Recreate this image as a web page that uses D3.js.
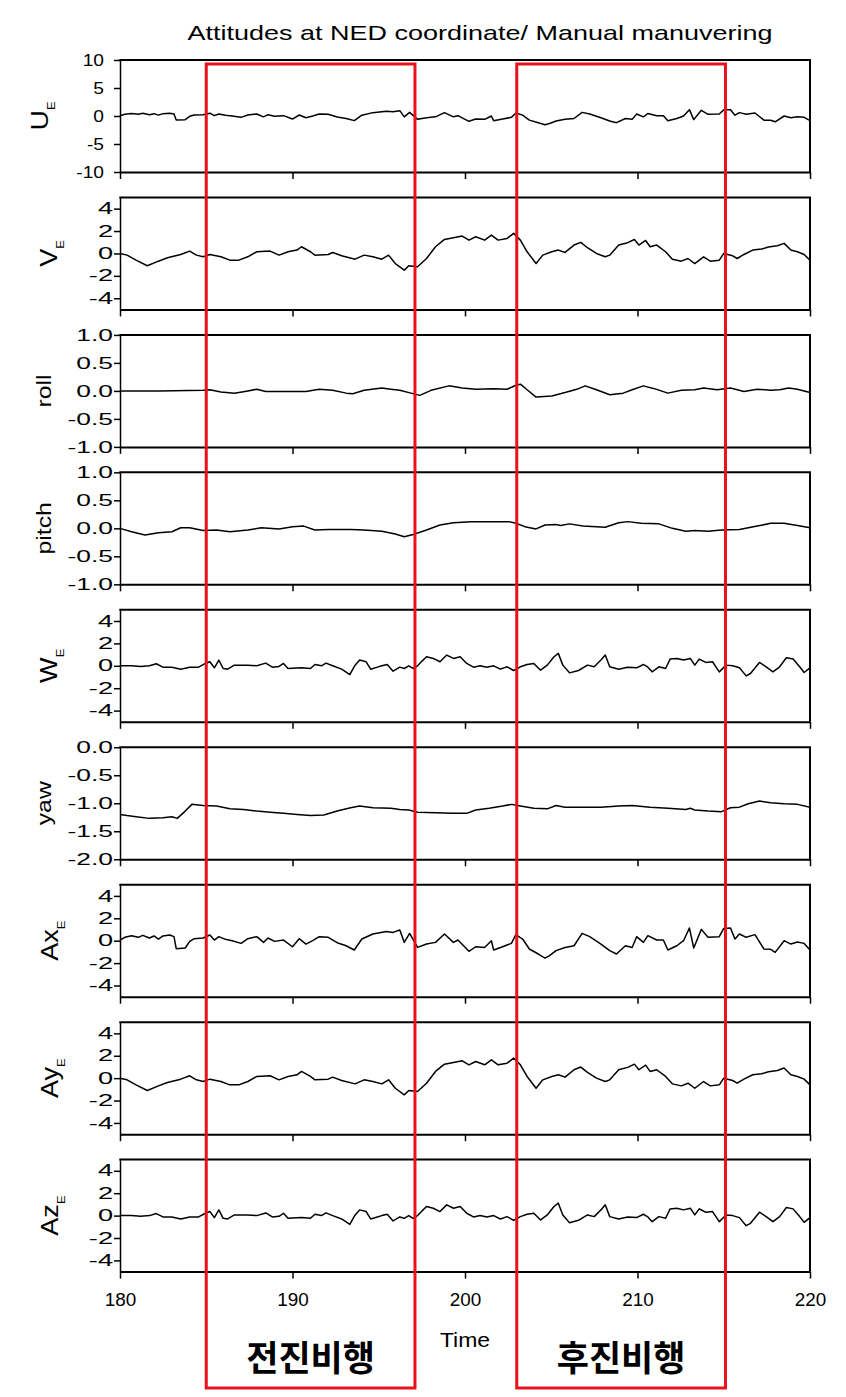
<!DOCTYPE html>
<html><head><meta charset="utf-8">
<script src="https://cdn.jsdelivr.net/npm/d3@7"></script>
<style>body{margin:0;background:#fff}svg{display:block}</style>
</head><body>
<script>
// ---------- data ----------
const xTicks = [180, 190, 200, 210, 220];
const ticksUE = [-10, -5, 0, 5, 10];
const ticks5 = [-4, -2, 0, 2, 4];
const ticksAng = [-1, -0.5, 0, 0.5, 1];
const ticksYaw = [-2, -1.5, -1, -0.5, 0];

// East velocity / acceleration X (same trace)
const tUE = [180.00,180.28,180.67,181.06,181.32,181.71,181.97,182.23,182.49,182.88,183.13,183.26,183.78,184.04,184.30,184.82,185.21,185.47,185.73,186.11,186.50,187.02,187.41,187.93,188.32,188.58,188.96,189.48,190.00,190.39,190.78,191.17,191.55,192.07,192.59,193.11,193.58,194.02,194.66,195.44,195.83,196.22,196.48,196.79,197.25,197.77,198.29,198.81,199.33,199.59,200.23,200.62,201.14,201.53,201.66,202.18,202.69,202.95,203.34,203.73,204.25,204.64,204.90,205.28,205.80,206.32,206.79,207.23,207.88,208.39,208.78,209.30,209.69,209.95,210.34,210.60,211.11,211.50,211.76,212.28,212.67,213.01,213.26,213.70,214.09,214.74,215.00,215.39,215.65,215.91,216.30,216.81,217.33,217.72,217.98,218.50,218.89,219.27,219.66,220.00];
const vUE = [0.06,0.30,0.45,0.30,0.48,0.24,0.42,0.15,0.42,0.51,0.36,-0.71,-0.65,-0.06,0.18,0.24,0.51,0.06,0.36,0.12,0.00,-0.24,0.18,0.36,-0.15,0.24,-0.06,0.06,-0.54,0.18,-0.30,0.00,0.36,0.30,-0.18,-0.45,-0.83,0.15,0.60,0.83,0.74,0.95,-0.15,0.65,-0.60,-0.30,-0.15,0.60,-0.15,0.06,-0.95,-0.54,-0.60,0.00,-0.83,-0.54,-0.24,0.54,0.15,-0.74,-1.19,-1.55,-1.34,-0.89,-0.60,-0.45,0.65,0.36,-0.30,-0.89,-1.19,-0.45,-0.60,0.36,-0.15,0.45,0.06,0.06,-0.83,-0.45,0.00,1.13,-0.65,1.01,0.30,0.36,1.10,1.13,0.15,0.60,0.30,0.54,-0.74,-0.77,-1.04,0.00,-0.30,-0.12,-0.24,-0.83];

// North velocity / acceleration Y (same trace)
const tVE = [180.00,180.41,180.93,181.58,182.23,182.75,183.52,184.04,184.43,184.82,185.21,185.85,186.37,186.89,187.41,187.93,188.70,189.22,189.74,190.26,190.52,191.04,191.30,192.07,192.33,192.85,193.63,194.15,194.66,195.18,195.57,195.96,196.48,196.74,197.25,197.77,198.29,198.81,199.33,199.84,200.23,200.62,201.14,201.53,201.92,202.44,202.82,203.21,203.60,204.12,204.51,205.03,205.41,205.80,206.32,206.71,207.10,207.62,208.13,208.39,208.91,209.43,209.82,210.08,210.47,210.73,211.11,211.63,212.02,212.54,212.93,213.32,213.83,214.22,214.74,215.00,215.52,215.78,216.17,216.68,217.20,217.59,218.11,218.50,218.89,219.27,219.66,220.00];
const vVE = [0.00,-0.15,-0.60,-1.10,-0.69,-0.39,-0.09,0.21,-0.15,-0.30,-0.09,-0.30,-0.60,-0.60,-0.30,0.15,0.21,-0.15,0.15,0.30,0.60,0.15,-0.15,-0.09,0.09,-0.21,-0.51,-0.15,-0.30,-0.51,-0.15,-0.90,-1.49,-1.10,-1.19,-0.45,0.60,1.25,1.40,1.55,1.19,1.49,1.19,1.64,1.19,1.34,1.79,1.19,0.15,-0.90,-0.15,0.15,0.30,0.09,0.75,0.99,0.51,0.00,-0.30,-0.15,0.75,0.96,1.25,0.75,1.16,0.60,0.75,0.15,-0.51,-0.69,-0.45,-0.90,-0.30,-0.69,-0.60,0.00,-0.21,-0.45,-0.09,0.30,0.39,0.57,0.69,0.90,0.30,0.15,-0.09,-0.60];

const tRoll = [180.00,182.23,184.82,185.21,185.85,186.63,187.41,187.93,188.45,190.00,190.78,191.55,192.33,193.11,193.50,194.15,195.18,195.70,196.22,196.87,197.38,198.03,199.07,199.84,200.62,201.66,202.44,202.95,203.21,203.60,204.12,205.03,205.80,206.58,206.97,207.62,208.39,209.17,209.69,210.34,210.98,211.76,212.54,213.32,213.83,214.61,215.39,216.17,216.94,217.72,218.24,218.76,219.27,220.00];
const vRoll = [0.00,0.00,0.01,0.02,-0.02,-0.04,0.00,0.03,-0.01,-0.01,-0.01,0.03,0.01,-0.04,-0.05,0.01,0.05,0.03,0.01,-0.04,-0.08,0.01,0.09,0.05,0.03,0.04,0.03,0.10,0.12,0.02,-0.11,-0.09,-0.03,0.04,0.09,0.02,-0.07,-0.04,0.02,0.09,0.04,-0.04,0.01,0.02,0.05,0.02,0.05,-0.01,0.03,0.01,0.02,0.05,0.03,-0.03];

const tPitch = [180.00,180.67,181.45,182.23,183.01,183.52,184.04,184.82,185.60,186.37,187.41,188.19,189.22,190.00,190.65,191.30,192.07,193.37,194.15,195.18,195.96,196.48,196.99,197.77,198.55,199.33,200.36,201.92,202.56,202.95,203.47,204.12,204.64,205.28,205.54,206.06,206.84,207.62,208.13,208.91,209.43,210.21,211.24,212.02,212.80,213.32,214.09,214.87,215.91,216.94,217.72,218.50,219.27,220.00];
const vPitch = [0.00,-0.06,-0.12,-0.08,-0.06,0.01,0.01,-0.04,-0.03,-0.06,-0.03,0.01,-0.01,0.03,0.04,-0.03,-0.02,-0.02,-0.03,-0.05,-0.10,-0.15,-0.11,-0.03,0.06,0.10,0.12,0.12,0.12,0.09,0.03,-0.01,0.06,0.07,0.05,0.08,0.04,0.03,0.02,0.10,0.12,0.09,0.08,0.00,-0.05,-0.04,-0.05,-0.03,-0.02,0.04,0.09,0.09,0.05,0.01];

// Down velocity / acceleration Z (same trace)
const tWE = [180.00,180.67,181.19,181.71,182.10,182.49,183.01,183.52,184.04,184.56,184.95,185.21,185.47,185.73,185.98,186.24,186.63,187.41,187.93,188.45,188.83,189.22,189.48,189.74,190.52,191.04,191.30,191.68,191.94,192.33,192.85,193.32,193.63,193.89,194.27,194.53,194.92,195.18,195.49,195.83,196.22,196.48,196.74,196.99,197.25,197.51,197.77,198.16,198.55,198.94,199.33,199.72,200.10,200.49,200.88,201.27,201.66,202.05,202.44,202.82,203.21,203.60,203.99,204.38,204.77,205.16,205.41,205.67,206.06,206.58,207.10,207.49,207.88,208.13,208.39,208.91,209.43,209.95,210.34,210.60,210.85,211.24,211.63,211.89,212.28,212.67,213.06,213.32,213.58,213.96,214.35,214.74,215.13,215.52,215.91,216.30,216.55,217.07,217.46,217.85,218.24,218.63,219.02,219.40,219.66,220.00];
const vWE = [0.00,0.00,-0.06,0.00,0.18,-0.12,-0.12,-0.30,-0.12,-0.12,0.21,0.36,-0.18,0.51,-0.24,-0.30,0.06,0.06,0.00,0.24,-0.12,-0.06,0.21,-0.24,-0.18,-0.24,0.12,0.00,0.24,0.00,-0.30,-0.78,0.06,0.51,0.36,-0.30,-0.12,0.00,0.12,-0.48,-0.12,-0.24,0.00,-0.24,0.00,0.42,0.81,0.66,0.36,0.96,0.66,0.81,0.21,-0.12,0.00,-0.12,0.00,-0.30,-0.09,-0.42,-0.09,0.12,0.21,-0.39,0.06,0.81,1.11,0.06,-0.63,-0.42,0.06,-0.09,0.51,0.96,-0.09,-0.30,-0.12,-0.18,0.12,-0.12,-0.54,-0.09,-0.24,0.60,0.66,0.51,0.66,0.06,0.60,0.30,0.36,-0.54,0.06,0.00,-0.18,-0.90,-0.69,0.30,-0.09,-0.54,-0.09,0.72,0.60,-0.09,-0.60,-0.18];

const tYaw = [180.00,180.41,180.93,181.71,182.49,183.01,183.32,183.78,184.17,184.82,185.60,186.37,187.15,187.93,188.70,189.48,190.26,191.04,191.81,192.59,193.37,193.89,194.66,195.70,196.22,196.74,197.25,198.29,199.33,200.10,200.62,201.40,202.18,202.69,203.21,203.99,204.77,205.28,205.80,206.84,207.88,208.91,209.69,210.73,211.76,212.80,213.06,213.32,214.09,214.87,215.39,215.91,216.42,217.07,217.72,218.50,219.27,220.00];
const vYaw = [-1.20,-1.22,-1.24,-1.27,-1.26,-1.24,-1.27,-1.14,-1.02,-1.04,-1.05,-1.10,-1.11,-1.14,-1.16,-1.18,-1.20,-1.22,-1.21,-1.14,-1.08,-1.05,-1.08,-1.09,-1.11,-1.12,-1.16,-1.17,-1.18,-1.18,-1.12,-1.09,-1.05,-1.02,-1.05,-1.09,-1.10,-1.04,-1.07,-1.07,-1.07,-1.05,-1.04,-1.07,-1.09,-1.11,-1.09,-1.12,-1.14,-1.15,-1.08,-1.07,-1.01,-0.96,-0.99,-1.01,-1.02,-1.07];

const titleText = "Attitudes at NED coordinate/ Manual manuvering";
const xTitle = "Time";
const boxLabels = ["전진비행", "후진비행"];
const boxRanges = [[185, 197.1], [203, 215.1]];

// ---------- layout ----------
const W = 846, H = 1397;
const left = 120, right = 810;
const top0 = 60, step = 137.45, ph = 112;
const FONT = "'Liberation Sans', Arial, sans-serif";

const intFmt = d => String(d);
const decFmt = d => d.toFixed(1);

const panels = [
  {lab:"U", sub:"E", t:tUE, v:vUE, dom:[-10,10], ticks:ticksUE, fmt:intFmt, pad:16, tsx:1.2, fs:24, bx:48},
  {lab:"V", sub:"E", t:tVE, v:vVE, dom:[-5,5], ticks:ticks5, fmt:intFmt, pad:7, tsx:1.7, fs:23, bx:57},
  {lab:"roll", sub:"", t:tRoll, v:vRoll, dom:[-1,1], ticks:ticksAng, fmt:decFmt, pad:7, tsx:1.65, fs:21, bx:51},
  {lab:"pitch", sub:"", t:tPitch, v:vPitch, dom:[-1,1], ticks:ticksAng, fmt:decFmt, pad:7, tsx:1.65, fs:21, bx:51},
  {lab:"W", sub:"E", t:tWE, v:vWE, dom:[-5,5], ticks:ticks5, fmt:intFmt, pad:7, tsx:1.7, fs:23, bx:57},
  {lab:"yaw", sub:"", t:tYaw, v:vYaw, dom:[-2,0], ticks:ticksYaw, fmt:decFmt, pad:7, tsx:1.65, fs:21, bx:51},
  {lab:"Ax", sub:"E", t:tUE, v:vUE, dom:[-5,5], ticks:ticks5, fmt:intFmt, pad:7, tsx:1.7, fs:23, bx:58},
  {lab:"Ay", sub:"E", t:tVE, v:vVE, dom:[-5,5], ticks:ticks5, fmt:intFmt, pad:7, tsx:1.7, fs:23, bx:58},
  {lab:"Az", sub:"E", t:tWE, v:vWE, dom:[-5,5], ticks:ticks5, fmt:intFmt, pad:7, tsx:1.7, fs:23, bx:58}
];

const svg = d3.select("body").append("svg").attr("width", W).attr("height", H)
  .style("font-family", FONT);

const x = d3.scaleLinear().domain([180, 220]).range([left, right]);

// title
svg.append("text").attr("transform", `translate(480,39.5) scale(1.35,1)`)
  .attr("text-anchor", "middle").attr("font-size", 20).attr("fill", "#000").text(titleText);

panels.forEach((p, i) => {
  const top = top0 + i * step, bot = top + ph;
  const y = d3.scaleLinear().domain(p.dom).range([bot, top]);
  const g = svg.append("g");

  // left axis
  const ya = g.append("g").attr("transform", `translate(${left},0)`)
    .call(d3.axisLeft(y).tickValues(p.ticks).tickFormat(p.fmt).tickSize(6).tickSizeOuter(0));
  ya.select(".domain").attr("stroke-width", 1.5);
  ya.selectAll(".tick line").attr("stroke-width", 1.5);
  ya.selectAll(".tick text").attr("font-size", 16).attr("font-family", FONT).attr("fill", "#000")
    .attr("x", -p.pad / p.tsx).attr("transform", `scale(${p.tsx},1)`);

  // bottom axis
  const last = i === panels.length - 1;
  const xa = g.append("g").attr("transform", `translate(0,${bot})`)
    .call(d3.axisBottom(x).tickValues(xTicks).tickSize(7).tickSizeOuter(0).tickPadding(15)
      .tickFormat(last ? intFmt : () => ""));
  xa.select(".domain").attr("stroke-width", 2);
  xa.selectAll(".tick line").attr("stroke-width", 1.5);
  xa.selectAll(".tick text").attr("font-size", 18).attr("font-family", FONT).attr("fill", "#000")
    .attr("transform", "scale(1.05,1)");

  // top & right frame
  g.append("line").attr("x1", left - 0.75).attr("x2", right + 1).attr("y1", top).attr("y2", top)
    .attr("stroke", "#000").attr("stroke-width", 2);
  g.append("line").attr("x1", right).attr("x2", right).attr("y1", top).attr("y2", bot)
    .attr("stroke", "#000").attr("stroke-width", 2);

  // data line
  g.append("path").datum(d3.zip(p.t, p.v))
    .attr("fill", "none").attr("stroke", "#000").attr("stroke-width", 1.5).attr("stroke-linejoin", "round")
    .attr("d", d3.line().x(d => x(d[0])).y(d => y(d[1])));

  // y title
  const tt = svg.append("g").attr("transform", `translate(${p.bx},${(top + bot) / 2}) rotate(-90)`)
    .append("text").attr("text-anchor", "middle").attr("transform", "scale(1.18,1)")
    .attr("font-size", p.fs).attr("fill", "#000");
  tt.append("tspan").text(p.lab);
  if (p.sub) tt.append("tspan").attr("font-size", 11).attr("dy", 7).text(p.sub);
});

// x title
svg.append("text").attr("transform", `translate(465,1347) scale(1.12,1)`)
  .attr("text-anchor", "middle").attr("font-size", 20.5).attr("fill", "#000").text(xTitle);

// red boxes + Korean labels
boxRanges.forEach((r, i) => {
  svg.append("rect").attr("x", x(r[0])).attr("y", 64).attr("width", x(r[1]) - x(r[0])).attr("height", 1388 - 64)
    .attr("fill", "none").attr("stroke", "#e8121c").attr("stroke-width", 3);
  svg.append("text").attr("x", (x(r[0]) + x(r[1])) / 2).attr("y", 1371)
    .attr("text-anchor", "middle").attr("font-family", "'Noto Sans CJK KR', sans-serif")
    .attr("font-weight", 700).attr("font-size", 35).attr("fill", "#000").text(boxLabels[i]);
});
</script>
</body></html>
